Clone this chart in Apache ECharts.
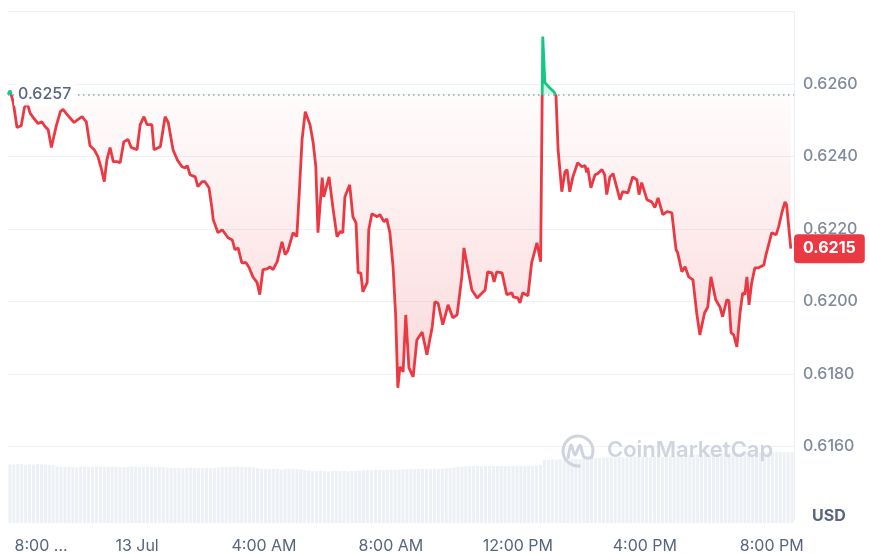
<!DOCTYPE html>
<html><head><meta charset="utf-8">
<script src="https://cdn.jsdelivr.net/npm/echarts@6/dist/echarts.min.js"></script>
<style>html,body{margin:0;padding:0;background:#fff;}#c{width:870px;height:553px;}</style>
</head><body><div id="c"></div>
<script>
// ---- data (times: 12 Jul evening rolling into 13 Jul) ----
const times = [
'19:56','20:00','20:06','20:13','20:21','20:27','20:32','20:38','20:45','20:53',
'21:00','21:06','21:12','21:18','21:21','21:27','21:35','21:40','21:46','21:53',
'22:01','22:08','22:16','22:24','22:31','22:39','22:46','22:52','22:58','23:03',
'23:09','23:15','23:22','23:28','23:35','23:43','23:49','00:00','00:06','00:13',
'00:19','00:28','00:32','00:44','00:53','00:59','01:08','01:16','01:25','01:31',
'01:35','01:40','01:50','01:55','02:03','02:08','02:16','02:22','02:24','02:33',
'02:41','02:52','03:00','03:05','03:11','03:18','03:26','03:32','03:39','03:47',
'03:52','03:58','04:06','04:11','04:17','04:25','04:34','04:40','04:45','04:55',
'05:02','05:06','05:12','05:18','05:27','05:33','05:38','05:42','05:50','05:53',
'06:03','06:10','06:18','06:24','06:29','06:33','06:42','06:48','06:54','06:58',
'07:03','07:07','07:15','07:18','07:24','07:34','07:39','07:47','07:52','07:58',
'08:04','08:09','08:13','08:17','08:23','08:28','08:34','08:42','08:49','08:59',
'09:08','09:18','09:23','09:29','09:38','09:48','09:57','10:05','10:14','10:18',
'10:33','10:43','10:58','11:03','11:11','11:15','11:20','11:30','11:39','11:49',
'11:51','12:00','12:04','12:09','12:19','12:26','12:36','12:38','12:43','12:47',
'12:51','13:00','13:08','13:12','13:16','13:23','13:29','13:33','13:38','13:44',
'13:53','14:01','14:07','14:10','14:12','14:18','14:26','14:31','14:39','14:44',
'14:48','14:54','15:00','15:13','15:18','15:28','15:37','15:45','15:49','15:54',
'16:04','16:13','16:19','16:25','16:34','16:42','16:51','16:59','17:02','17:10',
'17:16','17:23','17:31','17:38','17:44','17:53','17:59','18:05','18:08','18:14',
'18:22','18:27','18:35','18:39','18:43','18:48','18:54','19:00','19:05','19:09',
'19:13','19:17','19:22','19:28','19:35','19:45','19:49','19:52','20:00','20:08',
'20:13','20:19','20:25','20:28','20:36'
];
const prices = [
0.62571,0.62582,0.62549,0.62480,0.62485,0.62535,0.62549,0.62519,0.62505,0.62491,
0.62496,0.62483,0.62474,0.62425,0.62427,0.62483,0.62524,0.62530,0.62519,0.62507,
0.62494,0.62502,0.62510,0.62496,0.62430,0.62419,0.62400,0.62369,0.62331,0.62391,
0.62425,0.62386,0.62386,0.62383,0.62441,0.62447,0.62425,0.62419,0.62488,0.62510,
0.62488,0.62488,0.62419,0.62427,0.62510,0.62494,0.62419,0.62391,0.62372,0.62369,
0.62375,0.62350,0.62344,0.62317,0.62331,0.62331,0.62314,0.62253,0.62226,0.62190,
0.62198,0.62176,0.62170,0.62143,0.62148,0.62107,0.62107,0.62093,0.62068,0.62052,
0.62019,0.62088,0.62090,0.62096,0.62088,0.62110,0.62165,0.62129,0.62140,0.62190,
0.62179,0.62281,0.62447,0.62524,0.62488,0.62438,0.62372,0.62190,0.62342,0.62289,
0.62344,0.62262,0.62179,0.62193,0.62190,0.62289,0.62322,0.62234,0.62217,0.62079,
0.62079,0.62027,0.62052,0.62198,0.62242,0.62234,0.62240,0.62220,0.62228,0.62190,
0.62096,0.61958,0.61762,0.61820,0.61806,0.61963,0.61817,0.61792,0.61894,0.61916,
0.61853,0.61930,0.61999,0.61996,0.61936,0.61991,0.61955,0.61963,0.62068,0.62148,
0.62032,0.62010,0.62032,0.62082,0.62079,0.62054,0.62082,0.62079,0.62019,0.62024,
0.62013,0.62010,0.61996,0.62024,0.62016,0.62107,0.62162,0.62165,0.62110,0.62731,
0.62604,0.62590,0.62579,0.62568,0.62419,0.62303,0.62358,0.62364,0.62303,0.62344,
0.62383,0.62372,0.62375,0.62356,0.62369,0.62314,0.62350,0.62353,0.62364,0.62350,
0.62295,0.62344,0.62353,0.62281,0.62303,0.62300,0.62344,0.62336,0.62295,0.62328,
0.62281,0.62275,0.62259,0.62286,0.62240,0.62248,0.62245,0.62143,0.62135,0.62082,
0.62096,0.62068,0.62060,0.61969,0.61908,0.61969,0.61985,0.62068,0.62068,0.62005,
0.61985,0.61958,0.62005,0.62002,0.61914,0.61908,0.61875,0.61969,0.62024,0.62019,
0.62068,0.61991,0.62052,0.62093,0.62093,0.62101,0.62129,0.62124,0.62190,0.62184,
0.62206,0.62245,0.62275,0.62267,0.62146
];
// volume bars (relative units), evenly spaced over the period
const volumes = [
470,468,472,470,466,470,468,472,470,468,466,464,
452,450,448,452,450,446,450,452,448,450,452,450,448,450,452,450,446,448,450,452,450,448,450,452,448,446,450,448,444,442,
440,442,438,440,444,440,438,442,440,438,442,444,446,448,450,
450,452,450,448,450,446,440,
434,432,430,434,432,428,432,434,430,432,428,424,420,
416,414,418,416,412,416,418,414,416,412,416,418,420,422,
424,422,426,424,422,426,428,424,426,428,430,432,430,
432,434,430,432,436,432,434,438,440,444,448,452,
456,454,458,456,452,456,458,454,456,458,456,454,456,458,460,456,458,456,460,462,
504,506,508,506,510,508,506,510,512,510,512,514,516,518,520,
522,524,526,524,528,526,524,528,530,528,526,528,530,532,530,528,532,534,536,534,538,540,542,544,546,548,
552,554,556,554,558,556,560,558,562,560,562,564,562,566,564,566,568,566,570,568,566,568,566
];
const xTickTimes = ['-20:00', '00:00', '04:00', '08:00', '12:00', '16:00', '20:00'];
const xTickLabels = ['8:00 ...', '13 Jul', '4:00 AM', '8:00 AM', '12:00 PM', '4:00 PM', '8:00 PM'];
const axisStartTime = '-19:56';
const axisEndTime = '20:42';
const priceMin = 0.6140, priceMax = 0.6280, priceStep = 0.0020;
const currency = 'USD';
const watermark = 'CoinMarketCap';

// ---- helpers ----
function toMin(s){ const neg = s[0]==='-'; const t = neg ? s.slice(1) : s; const [h,m] = t.split(':').map(Number); return neg ? h*60+m-1440 : h*60+m; }
const minutes = []; let dayOff = -1440, prev = -1;
times.forEach(t => { const v = toMin(t); if (v < prev) dayOff += 1440; prev = v; minutes.push(v + dayOff); });
const xTickMinutes = xTickTimes.map(toMin);
const seriesData = minutes.map((m,i) => [m, prices[i]]);
const startPrice = prices[0], lastPrice = prices[prices.length-1];
const maxP = Math.max(...prices), minP = Math.min(...prices);
const off = (maxP - startPrice) / (maxP - minP);
const RED = '#ea3943', GREEN = '#16c784';
const nLines = Math.round((priceMax - priceMin) / priceStep) + 1;
const splitColors = Array.from({length: nLines}, (_, i) => i === 0 ? 'rgba(0,0,0,0)' : '#eff2f5');

const chart = echarts.init(document.getElementById('c'), null, {renderer: 'canvas'});
chart.setOption({
  animation: false,
  textStyle: {fontFamily: 'Inter'},
  grid: [
    {left: 8, right: 76, top: 11.6, height: 507.4, outerBoundsMode: 'none', containLabel: false},
    {left: 8, right: 76, top: 423, height: 100, outerBoundsMode: 'none', containLabel: false}
  ],
  xAxis: [
    {type: 'value', gridIndex: 0, min: toMin(axisStartTime), max: toMin(axisEndTime),
     axisLine: {show: false}, axisTick: {show: false}, splitLine: {show: false},
     axisLabel: {
       customValues: xTickMinutes,
       formatter: v => { const i = xTickMinutes.indexOf(v); const t = xTickLabels[i]; return i === 0 ? '{first|' + t + '}' : t; },
       color: '#58667e', fontSize: 16, margin: 19,
       rich: {first: {padding: [0, 0, 0, 62], fontSize: 16, color: '#58667e', fontFamily: 'Inter'}}
     }},
    {type: 'category', gridIndex: 1, data: volumes.map((_, i) => i), show: false}
  ],
  yAxis: [
    {type: 'value', gridIndex: 0, position: 'right', min: priceMin, max: priceMax, interval: priceStep,
     axisLine: {show: true, onZero: false, lineStyle: {color: '#eceff3', width: 1}}, axisTick: {show: false},
     splitLine: {show: true, lineStyle: {color: splitColors, width: 1}},
     axisLabel: {showMinLabel: false, showMaxLabel: false, formatter: v => v.toFixed(4),
       color: '#808a9d', fontSize: 16, fontWeight: 500, margin: 9}},
    {type: 'value', gridIndex: 1, min: 0, max: 800, show: false}
  ],
  visualMap: {show: false, seriesIndex: 0, dimension: 1,
    pieces: [{gt: 0, lte: startPrice, color: RED}, {gt: startPrice, lte: 1, color: GREEN}]},
  series: [
    {type: 'line', xAxisIndex: 0, yAxisIndex: 0, data: seriesData, showSymbol: false, symbol: 'none',
     lineStyle: {width: 2.8}, z: 3, clip: false,
     areaStyle: {origin: startPrice, color: new echarts.graphic.LinearGradient(0, 0, 0, 1, [
       {offset: 0, color: 'rgba(22,199,132,0.45)'},
       {offset: off, color: 'rgba(22,199,132,0.25)'},
       {offset: off, color: 'rgba(234,57,67,0.02)'},
       {offset: 1, color: 'rgba(234,57,67,0.28)'}
     ])},
     markLine: {silent: true, symbol: 'none', animation: false, precision: 6,
       lineStyle: {type: [1.5, 3.5], color: '#9aa2b1', width: 1.5},
       data: [
       {yAxis: startPrice, lineStyle: {type: [1.5, 3.5], color: '#9aa2b1', width: 1.5},
        label: {show: true, position: 'insideStartTop', distance: [6, 0], verticalAlign: 'middle',
          formatter: startPrice.toFixed(4), color: '#58667e', fontSize: 16, fontWeight: 500,
          backgroundColor: 'rgba(255,255,255,0.92)', padding: [3, 4]}},
       {yAxis: lastPrice, lineStyle: {type: 'solid', color: 'rgba(0,0,0,0)', width: 0},
        label: {show: true, position: 'end', distance: 0, formatter: lastPrice.toFixed(4),
          color: '#ffffff', backgroundColor: RED, borderRadius: 4, padding: [7, 9, 6, 9],
          fontSize: 16, fontWeight: 700, lineHeight: 16, opacity: 1}}
     ]}},
    {type: 'bar', xAxisIndex: 1, yAxisIndex: 1, data: volumes, barCategoryGap: '22%',
     itemStyle: {color: '#edf0f4'}, silent: true, z: 1}
  ],
  graphic: [
    {type: 'arc', z: 10, shape: {cx: 578, cy: 451, r: 15, startAngle: 1.40, endAngle: 6.80, clockwise: true},
     style: {stroke: '#cfd4de', lineWidth: 3, fill: null}},
    {type: 'polyline', z: 10, shape: {points: [[568,459],[571,445],[575,455],[580,445],[584,457],[591,458]], smooth: 0.3},
     style: {stroke: '#cfd4de', lineWidth: 3, fill: null}},
    {type: 'text', z: 10, left: 607, top: 439,
     style: {text: watermark, fontFamily: 'Inter', fontSize: 22, fontWeight: 600, fill: '#cfd4de'}},
    {type: 'text', z: 10, left: 812, top: 508,
     style: {text: currency, fontFamily: 'Inter', fontSize: 16, fontWeight: 700, fill: '#58667e'}}
  ]
});
</script></body></html>
